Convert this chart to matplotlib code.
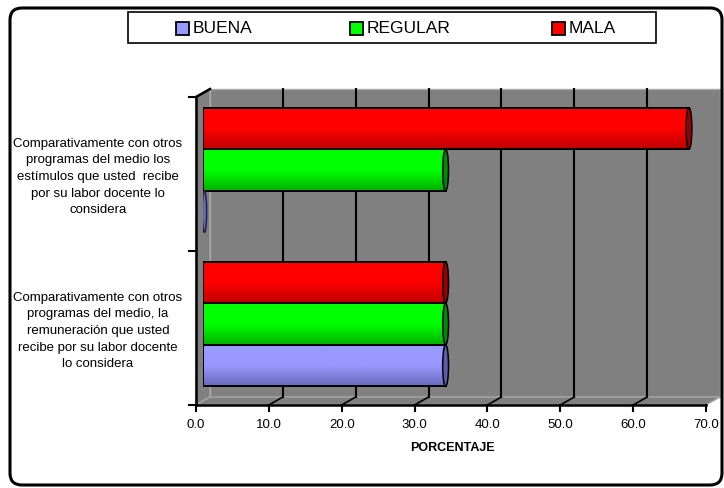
import numpy as np
import matplotlib
matplotlib.use("Agg")
import matplotlib.pyplot as plt
from matplotlib.patches import Polygon, Ellipse, Rectangle, FancyBboxPatch
from matplotlib.lines import Line2D
from matplotlib.transforms import IdentityTransform, offset_copy, blended_transform_factory
from matplotlib.colors import LinearSegmentedColormap

plt.rcParams['font.family'] = ['Liberation Sans', 'DejaVu Sans']

# categories from bottom to top, as Excel draws them
categories = [
    "Comparativamente con otros\nprogramas del medio, la\nremuneración que usted\nrecibe por su labor docente\nlo considera",
    "Comparativamente con otros\nprogramas del medio los\nestímulos que usted  recibe\npor su labor docente lo\nconsidera",
]
series = ["BUENA", "REGULAR", "MALA"]
buena = [33.3, 0.0]
regular = [33.3, 33.3]
mala = [33.3, 66.7]
xticks = [0, 10, 20, 30, 40, 50, 60, 70]

light = ['#9999ff', '#00ff00', '#ff0000']
dark = ['#6a6abb', '#00b000', '#c00000']
caps = ['#5c5ca8', '#008a00', '#990000']

W, H = 724, 488
fig = plt.figure(figsize=(W / 100, H / 100), dpi=100)
ax = fig.add_axes([203 / W, 1 - 401 / H, 510 / W, 308 / H])
ax.set_xlim(0, 70)
ax.set_ylim(0, 2)
ax.axis('off')

DX, DY = 7, 4  # half depth of the 3d box, pixels
ident = IdentityTransform()


def P(x, y, d):
    px, py = ax.transData.transform((x, y))
    return (px + d * DX, py + d * DY)


def seg(a, b, color='black', lw=1.3, z=1):
    ax.add_line(Line2D([a[0], b[0]], [a[1], b[1]], color=color, lw=lw,
                       transform=ident, clip_on=False, zorder=z))


# walls and floor
gray = '#808080'
edge = '#a8a8a8'
back = [P(0, 0, 1), P(70, 0, 1), P(70, 2, 1), P(0, 2, 1)]
side = [P(0, 0, -1), P(0, 0, 1), P(0, 2, 1), P(0, 2, -1)]
floor = [P(0, 0, -1), P(70, 0, -1), P(70, 0, 1), P(0, 0, 1)]
for poly in (back, side, floor):
    ax.add_patch(Polygon(poly, closed=True, transform=ident, facecolor=gray,
                         edgecolor=edge, lw=1, clip_on=False, zorder=0))

# gridlines on back wall and floor
for v in xticks[1:-1]:
    seg(P(v, 0, 1), P(v, 2, 1), lw=1.5)
    seg(P(v, 0, -1), P(v, 0, 1), lw=1.2)

# front edges and ticks
seg(P(0, 0, -1), P(70, 0, -1), lw=1.8, z=5)
seg(P(0, 0, -1), P(0, 2, -1), lw=1.8, z=5)
seg(P(0, 2, -1), P(0, 2, 1), lw=1.8, z=5)
for v in xticks:
    a = P(v, 0, -1)
    seg(a, (a[0], a[1] - 6), lw=1.5, z=5)
for c in [0, 1, 2]:
    a = P(0, c, -1)
    seg(a, (a[0] - 7, a[1]), lw=1.5, z=5)

# cylinders
h = 0.27
for j, vals in enumerate([buena, regular, mala]):
    ys = np.arange(len(categories)) + 0.5 + (j - 1) * h
    cmap = LinearSegmentedColormap.from_list('g', [dark[j], light[j], light[j]])
    grad = np.linspace(0, 1, 60).reshape(-1, 1)
    for v, yc in zip(vals, ys):
        if v > 0:
            ax.imshow(grad, cmap=cmap, origin='lower', aspect='auto',
                      extent=(0, v, yc - h / 2, yc + h / 2), zorder=2,
                      interpolation='bilinear')
            ax.add_patch(Ellipse((v, yc), 0.8, h, facecolor=caps[j],
                                 edgecolor='black', lw=1.1, zorder=4))
        else:
            # empty cylinder: only the thin end disc shows
            ax.add_patch(Ellipse((v + 0.2, yc), 0.6, h, facecolor=dark[j],
                                 edgecolor='#202040', lw=1.1, zorder=4))
    ax.barh(ys, vals, height=h, facecolor='none', edgecolor='black',
            lw=1.4, zorder=3)
ax.set_xlim(0, 70)
ax.set_ylim(0, 2)

# category labels
lab_tr = offset_copy(blended_transform_factory(fig.transFigure, ax.transData),
                     fig=fig, x=0, y=-7, units='dots')
for i, lab in enumerate(categories):
    ax.text(98 / W, i + 0.5, lab, transform=lab_tr, ha='center', va='center',
            multialignment='center', fontsize=9.5, linespacing=1.5)

# x tick labels
tick_tr = offset_copy(ax.transData, fig=fig, x=-DX, y=-DY - 20, units='dots')
for v in xticks:
    ax.text(v, 0, f"{v:.1f}", transform=tick_tr, ha='center', va='center',
            fontsize=9.5)

fig.text(452 / W, 1 - 448 / H, "PORCENTAJE", ha='center', va='center',
         fontsize=9, fontweight='bold')

# legend
fig.add_artist(Rectangle((128, H - 43), 528, 31, transform=ident,
                         facecolor='white', edgecolor='black', lw=1.2))
for x0, name, col in zip([176, 350, 552], series, light):
    fig.add_artist(Rectangle((x0, H - 35), 13, 13, transform=ident,
                             facecolor=col, edgecolor='black', lw=1.3))
    fig.text((x0 + 17) / W, 1 - 28.5 / H, name, ha='left', va='center',
             fontsize=12.5)

# chart border
fig.add_artist(FancyBboxPatch((10, H - 485), 712, 477, transform=ident,
                              boxstyle="round,pad=0,rounding_size=12",
                              facecolor='none', edgecolor='black', lw=2.2))

fig.savefig("out.png", dpi=100)
